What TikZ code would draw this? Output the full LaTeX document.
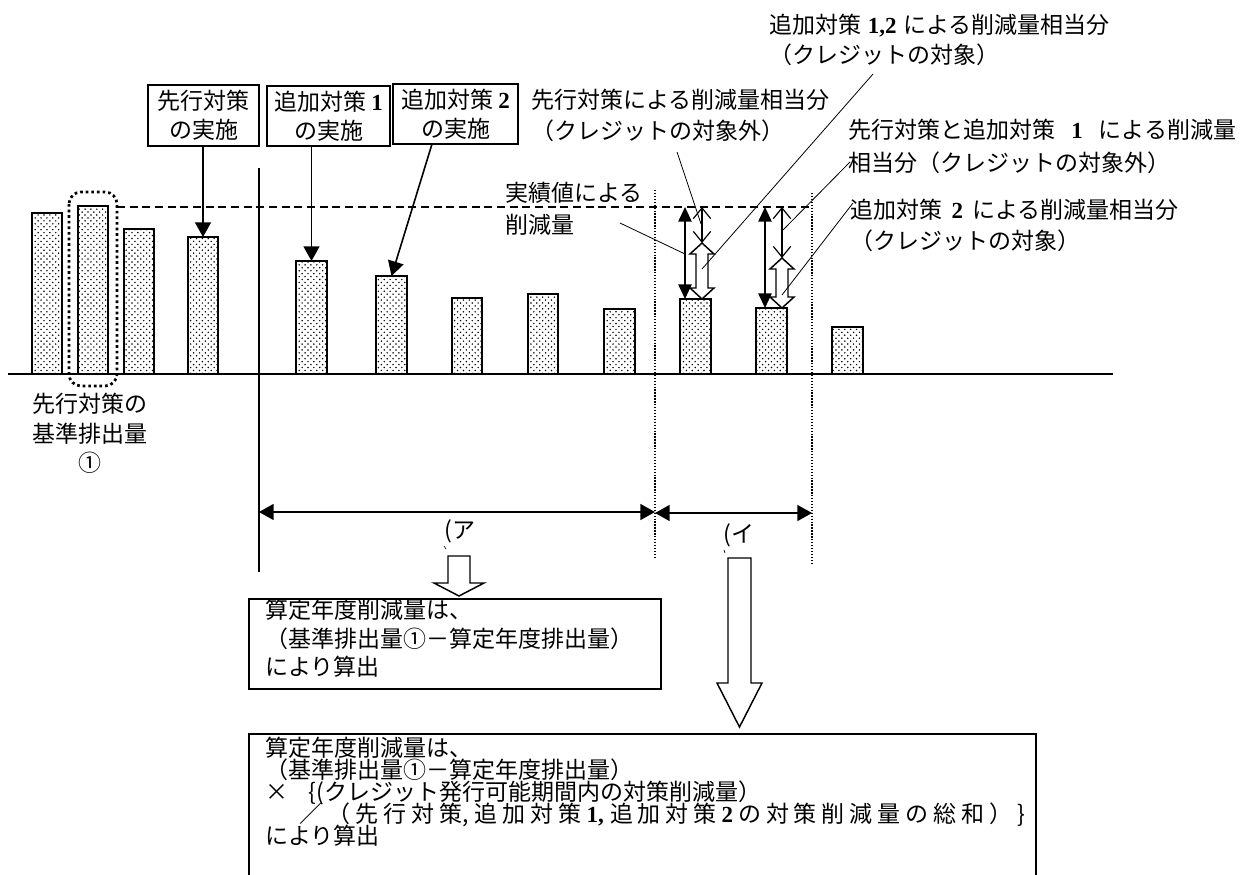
\documentclass[tikz,border=0pt]{standalone}
\usepackage{fontspec}
\setmainfont{Noto Sans CJK JP}
\newfontfamily\latn{Liberation Serif}
\usetikzlibrary{arrows.meta,patterns}
\pgfdeclarepatternformonly{bardots}{\pgfqpoint{-1pt}{-1pt}}{\pgfqpoint{4.5pt}{4.5pt}}{\pgfqpoint{4.4pt}{4.4pt}}{%
  \pgfpathcircle{\pgfqpoint{0pt}{0pt}}{0.62pt}%
  \pgfpathcircle{\pgfqpoint{2.2pt}{2.2pt}}{0.62pt}%
  \pgfusepath{fill}}
\newcommand\nm[1]{{\latn\bfseries #1}}
\newcommand\fsz[1]{\fontsize{17.25}{#1}\selectfont\lineskiplimit=-100pt\lineskip=0pt}
\newcommand\barat[4]{\draw[barst] (#2,374) rectangle (#3,#4); \coordinate (#1) at ({(#2+#3)/2},#4);}
\newcommand\spreadline[2]{{\spaceskip=0pt plus 1fil\xspaceskip=0pt plus 1fil\makebox[#1][s]{#2}}}
\begin{document}
\begin{tikzpicture}[x=0.75pt,y=-0.75pt,
  every node/.style={inner sep=0pt},
  font=\fsz{21.75},
  barst/.style={draw=black,line width=1pt,pattern=bardots},
  tbox/.style={draw,line width=1.3pt,align=center},
  bigarr/.style={line width=1.2pt,-{Triangle[width=12pt,length=11pt]}},
  colarr/.style={line width=1.3pt,{Triangle[width=10pt,length=11pt]}-{Triangle[width=10pt,length=11pt]}},
  thinarr/.style={line width=0.9pt,{Straight Barb[width=13pt,length=8pt]}-{Straight Barb[width=13pt,length=8pt]}},
  hollow/.style={draw,fill=white,line width=1.1pt,line join=miter},
  leader/.style={line width=0.6pt},
  spanarr/.style={line width=1.2pt,{Triangle[width=12pt,length=11pt]}-{Triangle[width=12pt,length=11pt]}},
  lbl/.style={anchor=base west,align=left},
  resbox/.style={draw,line width=1.2pt,anchor=north west}]
\useasboundingbox (0,0) rectangle (1243,875);
\fill[white] (0,0) rectangle (1243,875);
\clip (0,0) rectangle (1243,875);

% bars
\barat{b1}{32}{62}{213}
\barat{b2}{78}{108}{206}
\barat{b3}{124}{154}{229}
\barat{b4}{188}{218}{237}
\barat{b5}{296}{327}{261}
\barat{b6}{376}{407}{276}
\barat{b7}{452}{482}{298}
\barat{b8}{528}{558}{294}
\barat{b9}{604}{635}{309}
\barat{b10}{680}{711}{299}
\barat{b11}{756}{787}{308}
\barat{b12}{832}{863}{327}

% axis
\coordinate (axL) at (8,374);
\coordinate (axR) at (1113,374);
\draw[line width=1.2pt] (axL) -- (axR);

% dotted frame around base bar
\draw[line width=2pt,dash pattern=on 2pt off 2.2pt,rounded corners=9pt] (69,192) rectangle (117,386);

% dashed reference line
\coordinate (dashL) at (117,207);
\coordinate (dashR) at (812,207);
\draw[line width=1pt,dash pattern=on 6pt off 3.5pt] (dashL) -- (dashR);

% vertical start line and dotted period lines
\coordinate (vT) at (259,168);
\coordinate (vB) at (259,572);
\draw[line width=1pt] (vT) -- (vB);
\coordinate (p1T) at (655,190);
\coordinate (p1B) at (655,557);
\coordinate (p2T) at (812,193);
\coordinate (p2B) at (812,565);
\draw[line width=0.9pt,dash pattern=on 1pt off 1.2pt] (p1T) -- (p1B);
\draw[line width=0.9pt,dash pattern=on 1pt off 1.2pt] (p2T) -- (p2B);

% top boxes
\node[tbox,minimum width={111*0.75pt},minimum height={61*0.75pt}] (boxA) at (203.5,115.5) {先行対策\\の実施};
\node[tbox,minimum width={123*0.75pt},minimum height={60*0.75pt}] (boxB) at (328.5,116) {追加対策 \nm{1}\\の実施};
\node[tbox,minimum width={125*0.75pt},minimum height={60*0.75pt}] (boxC) at (455.5,114) {追加対策 \nm{2}\\の実施};

\draw[bigarr] (boxA.south -| b4) -- (b4);
\draw[bigarr] (boxB.south -| b5) -- (b5);
\coordinate (cst) at (432,144);
\draw[bigarr] (cst) -- (b6);

% reduction arrows, column 1
\coordinate (c1a) at (685,207);
\coordinate (c1b) at (685,299);
\draw[colarr] (c1a) -- (c1b);
\coordinate (t1a) at (702,207);
\coordinate (t1b) at (702,243);
\draw[thinarr] (t1a) -- (t1b);
\draw[hollow] (702,243) -- (714,254) -- (708,254) -- (708,288) -- (714,288) -- (702,299) -- (690,288) -- (696,288) -- (696,254) -- (690,254) -- cycle;
\coordinate (h1) at (702,269);

% column 2
\coordinate (c2a) at (765,207);
\coordinate (c2b) at (765,308);
\draw[colarr] (c2a) -- (c2b);
\coordinate (t2a) at (782,207);
\coordinate (t2b) at (782,258);
\draw[thinarr] (t2a) -- (t2b);
\draw[hollow] (782,258) -- (794,269) -- (788,269) -- (788,297) -- (794,297) -- (782,308) -- (770,297) -- (776,297) -- (776,269) -- (770,269) -- cycle;
\coordinate (h2) at (782,295);

% labels (anchored at the baseline of their last line)
\node[lbl,font=\fsz{24}] (lJ) at (505,233.7) {実績値による\\削減量};
\node[lbl,font=\fsz{23.25}] (lS) at (531,139.7) {先行対策による削減量相当分\\（クレジットの対象外）};
\node[lbl,font=\fsz{22.5}] (lA12) at (769,63.7) {追加対策\hspace{5pt}\nm{1,2}\hspace{5pt}による削減量相当分\\（クレジットの対象）};
\node[lbl,font=\fsz{24.75}] (lSA1) at (848,171.7) {先行対策と追加対策\hspace{12pt}\nm{1}\hspace{12pt}による削減量\\相当分（クレジットの対象外）};
\node[lbl,font=\fsz{23.25}] (lA2) at (850,249.7) {追加対策\hspace{7pt}\nm{2}\hspace{7pt}による削減量相当分\\（クレジットの対象）};

% leader lines
\coordinate (lJe) at (620,223);
\coordinate (lJt) at (685,254);
\draw[leader] (lJe) -- (lJt);
\coordinate (lSe) at (677,152);
\coordinate (lSt) at (701,224);
\draw[leader] (lSe) -- (lSt);
\coordinate (lA12e) at (873,74);
\draw[leader] (lA12e) -- (h1);
\coordinate (lSA1e) at (850,162);
\coordinate (lSA1t) at (783,230);
\draw[leader] (lSA1e) -- (lSA1t);
\coordinate (lA2e) at (853,203);
\draw[leader] (lA2e) -- (h2);

% base emission label
\node[anchor=base,align=center,font=\fsz{22.1}] (base) at (90,471.7) {先行対策の\\基準排出量\\①};

% period arrows
\coordinate (pa1) at (259,512);
\coordinate (pa2) at (655,512);
\coordinate (pb2) at (812,513);
\coordinate (pb1) at (655,513);
\draw[spanarr] (pa1) -- (pa2);
\draw[spanarr] (pb1) -- (pb2);
\node (lblA) at (460,531) {(ア};
\node (lblI) at (739,535) {(イ};
\draw[line width=0.5pt] (444,546) -- (446,549);
\draw[line width=0.5pt] (724,550) -- (725,553);

% hollow down arrows
\draw[hollow] (448,556) -- (470,556) -- (470,583) -- (484,583) -- (459,596) -- (434,583) -- (448,583) -- cycle;
\draw[hollow] (728,558) -- (751,558) -- (751,683) -- (762,683) -- (739.5,727) -- (717,683) -- (728,683) -- cycle;

% result boxes
\node[resbox,minimum width={412*0.75pt},minimum height={90*0.75pt}] (res1) at (248,598) {};
\node[lbl,font=\fsz{21.4}] (res1t) at (265,675.7) {算定年度削減量は、\\（基準排出量①－算定年度排出量）\\により算出};
\node[resbox,minimum width={787*0.75pt},minimum height={160*0.75pt}] (res2) at (248,733) {};
\node[lbl,font=\fsz{16.5}] (res2t) at (265,844.7) {算定年度削減量は、\\（基準排出量①－算定年度排出量）\\×\hspace{0.9em}\{(クレジット発行可能期間内の対策削減量）\\\hspace{1.5em}\spreadline{544pt}{／ （ 先 行 対 策, 追 加 対 策 \nm{1,} 追 加 対 策 \nm{2} の 対 策 削 減 量 の 総 和 ） \}}\\により算出};
\end{tikzpicture}
\end{document}
